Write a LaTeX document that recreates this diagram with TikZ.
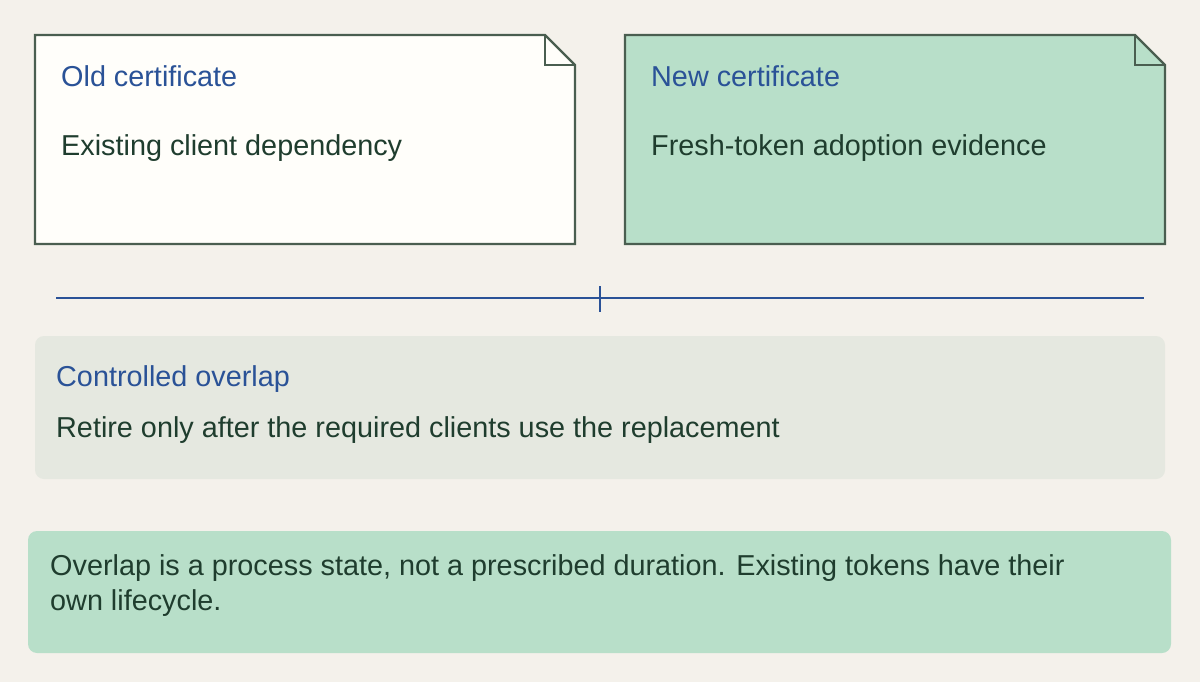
\documentclass[tikz,border=0pt]{standalone}
\usepackage{fontspec}
\setmainfont{Liberation Sans}
\definecolor{bg}{HTML}{F4F1EB}
\definecolor{stroke}{HTML}{4A5E50}
\definecolor{blue}{HTML}{2A5297}
\definecolor{dark}{HTML}{1F3D2E}
\definecolor{green}{HTML}{B8DFC9}
\definecolor{grey}{HTML}{E5E8E0}
\definecolor{paper}{HTML}{FFFEFA}
\begin{document}
\begin{tikzpicture}[x=1pt,y=-1pt,
  title/.style={anchor=base west,text=blue,font=\fontsize{28.8}{34}\selectfont,inner sep=0},
  body/.style={anchor=base west,text=dark,font=\fontsize{28.8}{34}\selectfont,inner sep=0},
  note/.style={draw=stroke,line width=2.4pt}]
\fill[bg] (0,0) rectangle (1200,682);
\useasboundingbox (0,0) rectangle (1200,682);
\draw[note,fill=paper] (35,35) -- (545,35) -- (575,65) -- (575,244) -- (35,244) -- cycle;
\draw[note] (545,35) -- (545,65) -- (575,65);
\draw[note,fill=green] (625,35) -- (1135,35) -- (1165,65) -- (1165,244) -- (625,244) -- cycle;
\draw[note] (1135,35) -- (1135,65) -- (1165,65);
\node[title] (t1) at (61,87) {Old certificate};
\node[body] (b1) at (61,156) {Existing client dependency};
\node[title] (t2) at (651,87) {New certificate};
\node[body] (b2) at (651,156) {Fresh-token adoption evidence};
\coordinate (l1) at (56,298); \coordinate (l2) at (1144,298);
\draw[blue,line width=2.4pt] (l1) -- (l2);
\coordinate (k1) at (600,286); \coordinate (k2) at (600,312);
\draw[blue,line width=2.4pt] (k1) -- (k2);
\fill[grey,rounded corners=9pt] (35,336) rectangle (1165,479);
\node[title] (t3) at (56,386) {Controlled overlap};
\node[body] (b3) at (56,437) {Retire only after the required clients use the replacement};
\fill[green,rounded corners=9pt] (28,531) rectangle (1171,653);
\node[body] (n1) at (50,575) {Overlap is a process state, not a prescribed duration. Existing tokens have their};
\node[body] (n3) at (50,610) {own lifecycle.};
\end{tikzpicture}
\end{document}
